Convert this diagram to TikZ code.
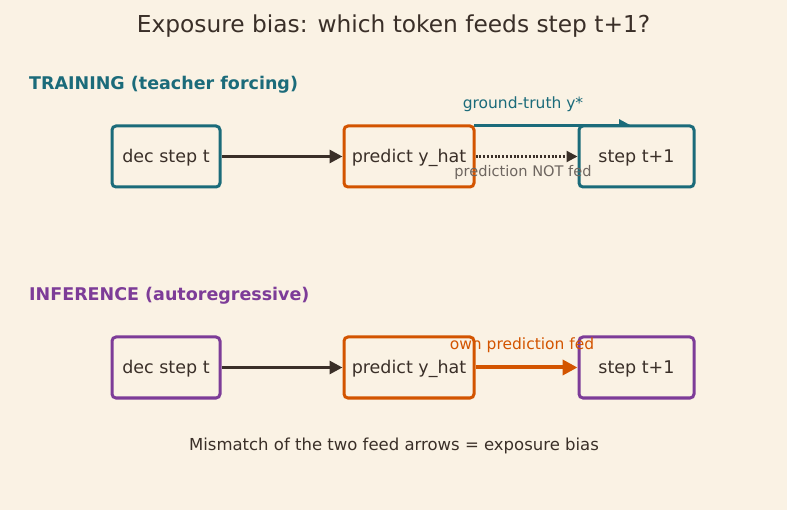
\documentclass[tikz,border=0pt]{standalone}
\usepackage{fontspec}
\setmainfont{DejaVu Sans}
\usetikzlibrary{arrows.meta}
\definecolor{bg}{HTML}{FAF2E4}
\definecolor{teal}{HTML}{1B6B7A}
\definecolor{orng}{HTML}{D35400}
\definecolor{purp}{HTML}{7D3C98}
\definecolor{ink}{HTML}{3A2F28}
\definecolor{gry}{HTML}{6E6660}
\begin{document}
\begin{tikzpicture}[x=1pt,y=-1pt,
  box/.style={draw,line width=3pt,rounded corners=4pt,fill=bg,inner sep=0pt,font=\fontsize{17.5}{21}\selectfont,text=ink,text depth=1pt},
  arr/.style={-{Triangle[length=13pt,width=13pt]},line width=3pt,draw=ink},
  lbl/.style={font=\fontsize{15.5}{18}\selectfont,inner sep=0pt},
  head/.style={font=\bfseries\fontsize{17.5}{21}\selectfont,anchor=west,inner sep=0pt}]
\fill[bg] (0,0) rectangle (787,510);
\useasboundingbox (0,0) rectangle (787,510);
\node[font=\fontsize{23.3}{28}\selectfont,text=ink] (title) at (393.5,26) {Exposure bias: which token feeds step t+1?};
\node[head,text=teal] (h1) at (29,85) {TRAINING (teacher forcing)};
\node[head,text=purp] (h2) at (29,296) {INFERENCE (autoregressive)};
% training row
\coordinate (gtA) at (474,126);
\coordinate (gtB) at (632,126);
\draw[-{Triangle[length=13pt,width=13pt]},line width=3pt,teal] (gtA) -- (gtB);
\node[box,draw=teal,minimum width=108pt,minimum height=61pt] (d1) at (166,156.5) {dec step t};
\node[box,draw=orng,minimum width=130pt,minimum height=61pt] (p1) at (409,156.5) {predict y\_hat};
\node[box,draw=teal,minimum width=115pt,minimum height=61pt] (s1) at (636.5,156.5) {step t+1};
\draw[arr] (d1) -- (p1);
\draw[-{Triangle[length=11pt,width=11pt]},line width=2.2pt,draw=ink,dash pattern=on 2pt off 1.8pt] (p1) -- (s1);
\node[lbl,text=teal] (l1) at (523,104) {ground-truth y*};
\node[lbl,text=gry,font=\fontsize{14.6}{17}\selectfont] (l2) at (523,172) {prediction NOT fed};
% inference row
\node[box,draw=purp,minimum width=108pt,minimum height=61pt] (d2) at (166,367.5) {dec step t};
\node[box,draw=orng,minimum width=130pt,minimum height=61pt] (p2) at (409,367.5) {predict y\_hat};
\node[box,draw=purp,minimum width=115pt,minimum height=61pt] (s2) at (636.5,367.5) {step t+1};
\draw[arr] (d2) -- (p2);
\draw[-{Triangle[length=15pt,width=15pt]},line width=4pt,draw=orng] (p2) -- (s2);
\node[lbl,text=orng] (l3) at (522,345) {own prediction fed};
\node[font=\fontsize{16.5}{20}\selectfont,text=ink] (foot) at (394,446) {Mismatch of the two feed arrows = exposure bias};
\end{tikzpicture}
\end{document}
